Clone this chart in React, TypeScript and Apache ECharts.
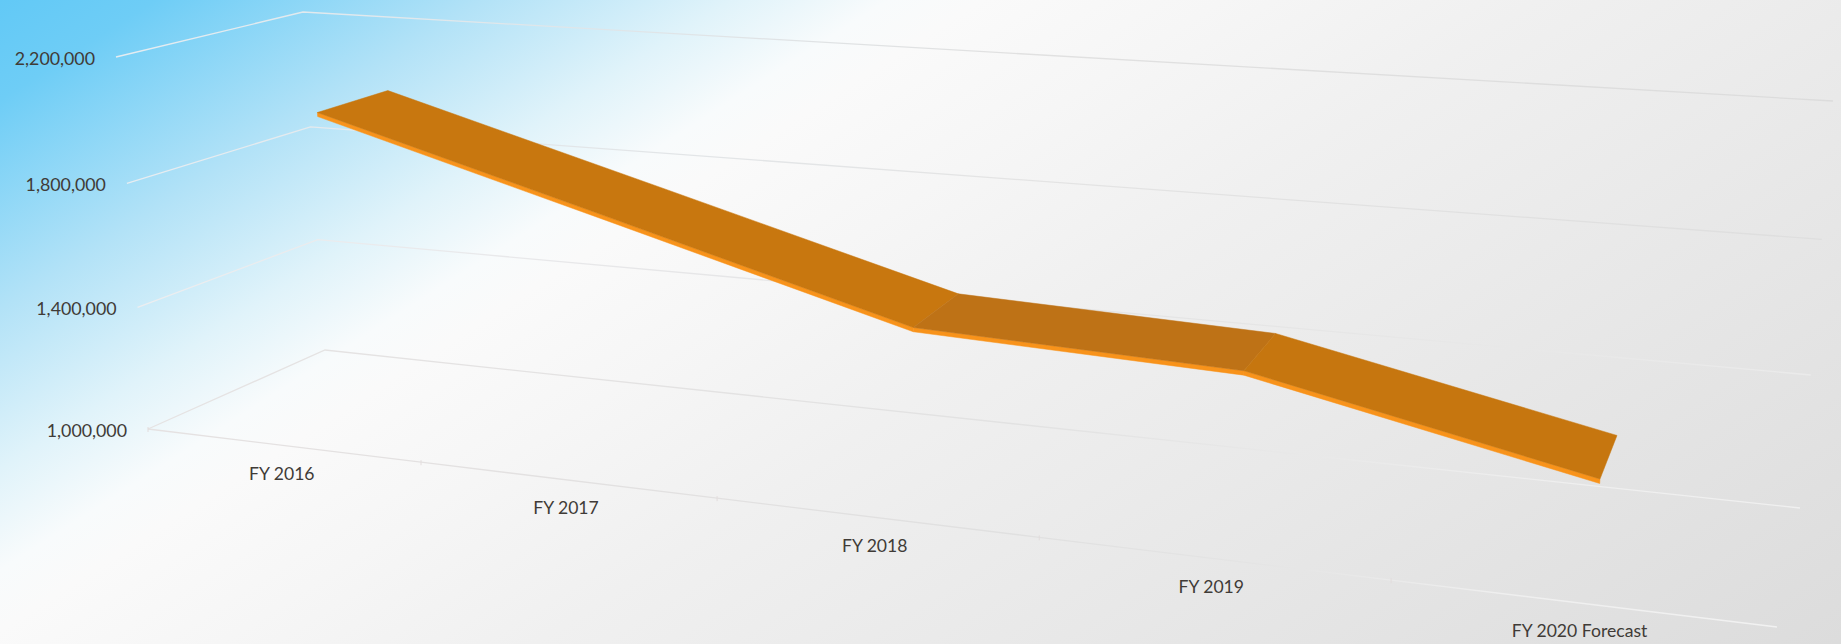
import React, { useEffect, useRef } from "react";
import * as echarts from "echarts";

const categories = ["FY 2016", "FY 2017", "FY 2018", "FY 2019", "FY 2020 Forecast"];
const values = [2005000, 1749000, 1491000, 1458000, 1250000];
const yTicks = [1000000, 1400000, 1800000, 2200000];
// first and last category of each run of the ribbon that shares one shade
const runStarts = [0, 2, 3];
const runEnds = [2, 3, 4];
const runColors = ["#C8770F", "#BE7216", "#C6760F"];

const W = 1841;
const H = 644;
const FONT = "Lato";
const TEXT = "#403B37";

// screen corners of the 3D box: [depth][across][height]
const CORNERS: number[][][][] = [
  [[[148, 429], [116, 57]], [[1777, 627], [1812, 180]]],
  [[[325, 350], [303, 12]], [[1800, 508], [1833, 101]]],
];
const KX = 1.2416;
const KX_RIBBON = 1.232;
const KY = 1.03;
const DEPTH_FRONT = 0.33;
const DEPTH_BACK = 0.74;
const THICK = 13000;

function lerp(a: number[], b: number[], f: number) {
  return [a[0] + (b[0] - a[0]) * f, a[1] + (b[1] - a[1]) * f];
}
function project(u: number, t: number, d: number, k: number = KX) {
  const s = u / (u + k * (1 - u));
  const h = t / (t + KY * (1 - t));
  const at = (dd: number) =>
    lerp(
      lerp(CORNERS[dd][0][0], CORNERS[dd][0][1], h),
      lerp(CORNERS[dd][1][0], CORNERS[dd][1][1], h),
      s
    );
  return lerp(at(0), at(1), d);
}
function toUnit(params: any, api: any, i: number, v: number) {
  const p = api.coord([i, v]);
  const c = params.coordSys;
  return [(p[0] - c.x) / c.width, 1 - (p[1] - c.y) / c.height];
}

const fmt = (v: number) => v.toLocaleString("en-US");

function stopsFor(idx: number) {
  if (idx === 0)
    return [
      { offset: 0, color: "#e6e3e3" },
      { offset: 0.55, color: "#e2e2e2" },
      { offset: 0.7, color: "#e8e8e8" },
      { offset: 0.85, color: "#efefef" },
      { offset: 1, color: "#f0f0f0" },
    ];
  if (idx === 1)
    return [
      { offset: 0, color: "#eef0f2" },
      { offset: 0.3, color: "#e8e8ea" },
      { offset: 0.55, color: "#e3e3e3" },
      { offset: 1, color: "#ebebeb" },
    ];
  if (idx === 2)
    return [
      { offset: 0, color: "#e8eff4" },
      { offset: 0.3, color: "#e2e6e9" },
      { offset: 0.55, color: "#e4e4e4" },
      { offset: 1, color: "#dedede" },
    ];
  return [
    { offset: 0, color: "#e6eef3" },
    { offset: 0.3, color: "#dfe6ea" },
    { offset: 0.55, color: "#e1e1e1" },
    { offset: 1, color: "#dcdcdc" },
  ];
}

function gridItem(params: any, api: any) {
  const v = api.value(1);
  const [, t] = toUnit(params, api, 0, v);
  const a = project(0, t, 0);
  const b = project(0, t, 1);
  const c = project(1, t, 1);
  const idx = params.dataIndex;
  const stroke = new echarts.graphic.LinearGradient(0, 0, W, 0, stopsFor(idx), true);
  return {
    type: "group",
    children: [
      {
        type: "polyline",
        shape: { points: [a, b, c] },
        style: { stroke, fill: "none", lineWidth: 1.3 },
      },
      {
        type: "text",
        x: a[0] - 21,
        y: a[1] + 1,
        style: { text: fmt(v), fill: TEXT, fontFamily: FONT, fontSize: 17.8, align: "right", verticalAlign: "middle" },
      },
    ],
  };
}

function floorItem(params: any, api: any) {
  const i = api.value(0);
  const [u, t] = toUnit(params, api, i, yTicks[0]);
  const mid = project(u, t, 0);
  const n = categories.length;
  const l = project(i / n, t, 0);
  const r = project((i + 1) / n, t, 0);
  const stroke = new echarts.graphic.LinearGradient(
    0, 0, W, 0,
    [
      { offset: 0, color: "#e6e2e2" },
      { offset: 0.55, color: "#e0e0e0" },
      { offset: 0.68, color: "#e4e4e4" },
      { offset: 0.82, color: "#efefef" },
      { offset: 1, color: "#f2f2f2" },
    ],
    true
  );
  return {
    type: "group",
    children: [
      { type: "line", shape: { x1: l[0], y1: l[1], x2: r[0], y2: r[1] }, style: { stroke, lineWidth: 1.3 } },
      { type: "line", shape: { x1: l[0], y1: l[1] - 2, x2: l[0], y2: l[1] + 3 }, style: { stroke: "#e2dcdc", lineWidth: 1 } },
      {
        type: "text",
        x: mid[0],
        y: mid[1] + 28,
        style: { text: categories[i], fill: TEXT, fontFamily: FONT, fontSize: 17.6, align: "center", verticalAlign: "middle" },
      },
    ],
  };
}

function ribbonItem(params: any, api: any) {
  const run = params.dataIndex;
  const from = runStarts[run];
  const to = runEnds[run];
  const top: number[][] = [];
  const back: number[][] = [];
  const low: number[][] = [];
  for (let i = from; i <= to; i++) {
    const [u, t] = toUnit(params, api, i, values[i]);
    const [, b] = toUnit(params, api, i, values[i] - THICK);
    top.push(project(u, t, DEPTH_FRONT, KX_RIBBON));
    back.push(project(u, t, DEPTH_BACK, KX_RIBBON));
    low.push(project(u, b, DEPTH_FRONT, KX_RIBBON));
  }
  const color = runColors[run];
  return {
    type: "group",
    children: [
      {
        type: "polygon",
        shape: { points: [...top, ...low.slice().reverse()] },
        style: { fill: "#F8931B", stroke: "#F8931B", lineWidth: 0.5 },
      },
      {
        type: "polygon",
        shape: { points: [...top, ...back.slice().reverse()] },
        style: { fill: color, stroke: color, lineWidth: 0.5 },
      },
    ],
  };
}

const BACKGROUND =
  "linear-gradient(147.3deg, #62C9F6 0px, #6ECDF6 84px, #B2E2F7 260px, #E0F3FA 395px, #F8FBFC 480px, #FAFAFA 530px, #F6F6F6 660px, #F0F0F0 830px, #E9E9E9 1075px, #DCDCDC 1535px)";

export default function App() {
  const ref = useRef<HTMLDivElement>(null);
  useEffect(() => {
    document.body.style.margin = "0";
    const chart = echarts.init(ref.current!, undefined, { renderer: "svg" });
    chart.setOption({
      animation: false,
      backgroundColor: "transparent",
      grid: { left: 0, right: 0, top: 0, bottom: 0 },
      xAxis: { type: "category", data: categories, show: false },
      yAxis: { type: "value", min: 1000000, max: 2200000, interval: 400000, show: false },
      series: [
        { type: "custom", coordinateSystem: "cartesian2d", clip: false, silent: true, data: yTicks.map((v) => [0, v]), renderItem: gridItem },
        { type: "custom", coordinateSystem: "cartesian2d", clip: false, silent: true, data: categories.map((_, i) => [i, yTicks[0]]), renderItem: floorItem },
        { type: "custom", coordinateSystem: "cartesian2d", clip: false, silent: true, data: runStarts.map((s) => [s, values[s]]), renderItem: ribbonItem },
      ],
    });
    return () => chart.dispose();
  }, []);
  return <div ref={ref} style={{ position: "absolute", left: 0, top: 0, width: W, height: H, background: BACKGROUND }} />;
}
